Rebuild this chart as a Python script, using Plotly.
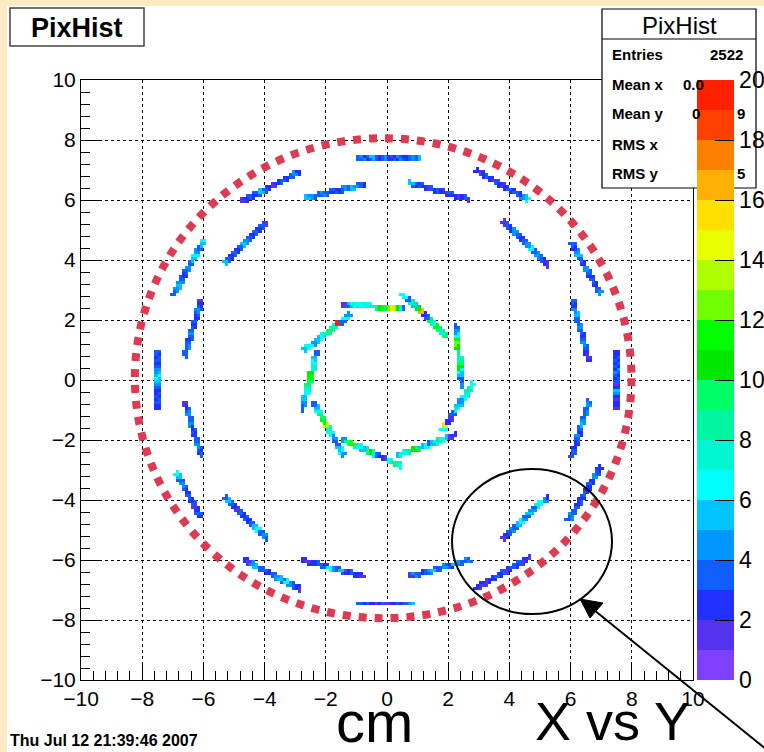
import numpy as np
import plotly.graph_objects as go

# ---------------- data ----------------
# outer ring ladders (cm): start / end points
OUT_X0 = [-0.95, 0.72, 2.92, 3.81, 6.03, 6.06, 7.46, 6.03, 5.92, 3.82, 2.90, 0.72, -1.00, -2.72, -4.62, -5.30, -6.87, -6.61, -7.48, -6.61, -6.99, -5.30, -4.76, -2.66]
OUT_Y0 = [7.44, 6.58, 6.98, 5.28, 4.58, 2.69, 0.98, -2.56, -4.67, -5.28, -6.94, -6.56, -7.44, -6.02, -6.02, -3.91, -3.11, -0.72, 0.98, 0.80, 2.83, 3.89, 5.94, 6.05]
OUT_X1 = [1.01, 2.68, 4.61, 5.26, 6.97, 6.57, 7.46, 6.60, 7.00, 5.26, 4.66, 2.70, 0.87, -0.73, -2.83, -3.96, -6.07, -6.06, -7.48, -6.06, -5.96, -3.94, -2.85, -0.73]
OUT_Y1 = [7.44, 6.02, 6.00, 3.80, 2.89, 0.69, -1.00, -0.69, -2.89, -3.89, -5.92, -6.00, -7.44, -6.56, -6.97, -5.28, -4.58, -2.50, -1.00, 2.67, 4.67, 5.22, 6.94, 6.53]
OUT_COUNTS = [
    [3, 4, 2, 3, 5, 3, 2, 3, 4, 2, 3, 2, 4, 3, 2, 3, 4, 3, 5],
    [5, 3, 2, 3, 2, 1, 3, 2, 3, 2, 1, 2, 3, 2, 1, 2, 3, 1],
    [2, 1, 2, 3, 2, 1, 3, 2, 1, 2, 3, 2, 3, 2, 4, 5, 6],
    [1, 3, 2, 4, 3, 2, 3, 4, 6, 3, 4, 3, 2, 1],
    [3, 2, 4, 5, 3, 2, 4, 3, 2, 3, 2, 3, 4],
    [3, 2, 4, 5, 3, 3, 4, 3, 2, 3, 4, 3, 2, 1, 2],
    [2, 2, 3, 2, 3, 2, 4, 3, 2, 3, 1, 2, 5, 4, 2, 1, 2, 2, 1],
    [3, 3, 2, 2, 3, 4, 2, 3, 5, 4, 3, 4, 3, 4, 3],
    [3, 4, 3, 3, 2, 3, 2, 3, 2, 2, 3, 2, 4, 3, 2, 2],
    [1, 2, 3, 4, 3, 5, 6, 4, 3, 5, 4, 3, 7, 6, 4, 2],
    [2, 1, 2, 1, 2, 2, 3, 2, 3, 1, 2, 3, 2, 3, 1, 2, 1],
    [1, 4, 3, 2, 3, 4, 5, 3, 3, 4, 3, 2, 5, 4, 3, 4, 3],
    [3, 2, 3, 2, 2, 1, 2, 3, 1, 2, 2, 3, 2, 1, 3, 4, 5],
    [2, 1, 2, 2, 3, 3, 2, 6, 4, 3, 5, 3, 2, 3, 2, 2, 1],
    [2, 1, 4, 5, 3, 3, 2, 3, 4, 5, 3, 6, 4, 3, 2, 1],
    [3, 5, 3, 2, 1, 3, 2, 3, 2, 3, 5, 6, 3, 4, 3],
    [6, 5, 3, 4, 3, 2, 3, 2, 3, 1, 2, 3, 2],
    [1, 2, 3, 4, 3, 3, 4, 2, 3, 2, 3, 3, 4, 3, 2, 3],
    [3, 2, 3, 2, 3, 4, 5, 6, 5, 4, 3, 2, 3, 2, 3, 2, 2],
    [3, 3, 4, 3, 2, 3, 4, 3, 2, 3, 2, 3, 4, 3, 2, 1],
    [3, 4, 5, 4, 3, 2, 3, 4, 3, 5, 6, 4, 3, 5, 6],
    [5, 3, 2, 3, 2, 3, 5, 4, 3, 2, 3, 2, 3, 1],
    [1, 2, 3, 2, 3, 5, 3, 2, 1, 2, 3, 2, 3, 4, 2],
    [5, 4, 3, 3, 4, 3, 2, 3, 2, 3, 4, 3, 5, 4, 3, 2],
]

# inner ring ladders (cm)
IN_X0 = [-1.49, 0.52, 2.25, 2.81, 2.27, -1.43, -2.41, -2.31, -1.22]
IN_Y0 = [2.53, 2.83, 1.89, -0.11, -1.83, -2.00, -0.72, 0.94, 2.17]
IN_X1 = [0.58, 1.94, 2.46, 1.83, 0.36, 0.47, -1.43, -2.76, -2.69]
IN_Y1 = [2.37, 1.50, -0.20, -1.67, -2.50, -2.87, -2.50, -1.00, 1.00]
IN_COUNTS = [
    [1, 3, 5, 6, 7, 6, 6, 7, 6, 7, 8, 10, 11, 9, 12, 15, 13, 10, 7, 3],
    [6, 3, 8, 5, 10, 16, 2, 3, 9, 6, 11, 8, 7, 9],
    [3, 4, 6, 11, 12, 10, 8, 7, 9, 10, 6, 5, 3, 4],
    [6, 8, 7, 6, 4, 5, 7, 3, 1, 2, 15, 6],
    [2, 1, 5, 6, 8, 7, 5, 3, 6, 5, 9, 10, 8, 6, 7, 5],
    [4, 9, 11, 7, 6, 5, 8, 10, 7, 3, 2, 1, 6, 9, 7, 6],
    [3, 5, 6, 9, 11, 13, 7, 6, 4, 3, 5, 6, 4],
    [3, 5, 6, 7, 10, 11, 9, 7, 6, 5, 4, 3],
    [4, 6, 3, 19, 7, 9, 8, 6, 5, 4, 6, 5],
]

# 20-level palette (0 -> 20)
PALETTE = ["#7f3fff", "#5533ee", "#1f30ff", "#105eff", "#0096ff", "#00c3ff",
           "#00ffff", "#00f5d2", "#00f5a0", "#00ff66", "#00e800", "#00ff00",
           "#70ff00", "#b0ff00", "#e8ff00", "#ffe000", "#ffb000", "#ff8000",
           "#ff4000", "#ff2000"]
CB_TICKS = [0, 2, 4, 6, 8, 10, 12, 14, 16, 18, 20]
AXIS_TICKS = [-10, -8, -6, -4, -2, 0, 2, 4, 6, 8, 10]

STATS_LABELS = ["Entries", "Mean x", "Mean y", "RMS x", "RMS y"]
ENTRIES = "2522"

# ---------------- build histogram ----------------
NB = 200
BW = 0.1
z = [[None] * NB for _ in range(NB)]
HALF_WIDTH = 0.04  # ladder half thickness (cm)


def fill(x0, y0, x1, y1, counts):
    L = np.hypot(x1 - x0, y1 - y0)
    ux, uy = (x1 - x0) / L, (y1 - y0) / L
    nx, ny = -uy, ux
    n = int(L / 0.03) + 2
    cells = []
    for t in np.linspace(0, 1, n):
        for off in (-HALF_WIDTH, HALF_WIDTH):
            x = x0 + (x1 - x0) * t + nx * off
            y = y0 + (y1 - y0) * t + ny * off
            i = int(np.floor((x + 10) / BW))
            j = int(np.floor((y + 10) / BW))
            if (i, j) not in cells:
                cells.append((i, j))
    m = len(cells)
    for k, (i, j) in enumerate(cells):
        z[j][i] = counts[min(int(k * len(counts) / m), len(counts) - 1)]


for a in range(len(OUT_X0)):
    fill(OUT_X0[a], OUT_Y0[a], OUT_X1[a], OUT_Y1[a], OUT_COUNTS[a])
for a in range(len(IN_X0)):
    fill(IN_X0[a], IN_Y0[a], IN_X1[a], IN_Y1[a], IN_COUNTS[a])

centers = [-10 + BW / 2 + BW * k for k in range(NB)]

colorscale = []
nlev = len(PALETTE)
for k, c in enumerate(PALETTE):
    colorscale.append([k / nlev, c])
    colorscale.append([(k + 1) / nlev, c])

# ---------------- figure ----------------
W, H = 764, 752
ML, MR, MT, MB = 81, 71, 80, 72
PW, PH = W - ML - MR, H - MT - MB


def PX(p):
    return (p - ML) / PW


def PY(p):
    return (H - MB - p) / PH


fig = go.Figure()
fig.add_trace(go.Heatmap(
    x=centers, y=centers, z=z, zmin=0, zmax=20,
    colorscale=colorscale, hoverongaps=False,
    colorbar=dict(
        x=PX(697), xanchor="left", xref="paper",
        y=0.5, yanchor="middle", len=1.0, lenmode="fraction",
        thickness=37, thicknessmode="pixels", outlinewidth=0,
        tickvals=CB_TICKS, ticks="inside", ticklen=19, tickcolor="black",
        tickwidth=1, tickfont=dict(family="Liberation Sans", size=23, color="black"),
        ypad=0, xpad=0,
    ),
))

FONT = "Liberation Sans"
axis_common = dict(
    range=[-10, 10], tickvals=AXIS_TICKS, ticks="inside", ticklen=18,
    tickcolor="black", tickwidth=1, showgrid=True, gridcolor="black",
    gridwidth=1, griddash="3px,3px", zeroline=False, showline=True,
    linecolor="black", linewidth=1, mirror=True,
    tickfont=dict(family=FONT, size=21, color="black"),
    minor=dict(dtick=0.4, ticks="inside", ticklen=9, tickcolor="black", showgrid=False),
)
fig.update_xaxes(**axis_common)
fig.update_yaxes(**axis_common)

shapes = []
# cream window border (top and left)
shapes.append(dict(type="rect", xref="paper", yref="paper", x0=PX(0), x1=PX(W), y0=PY(0), y1=PY(6),
                   fillcolor="#fdebc6", line=dict(width=0), layer="below"))
shapes.append(dict(type="rect", xref="paper", yref="paper", x0=PX(0), x1=PX(7), y0=PY(0), y1=PY(H),
                   fillcolor="#fdebc6", line=dict(width=0), layer="below"))
# red dotted circle
shapes.append(dict(type="circle", xref="x", yref="y", x0=-8.24, x1=7.99, y0=-7.94, y1=8.06,
                   line=dict(color="#dd3b52", width=8, dash="dot"), layer="above"))
# black ellipse
shapes.append(dict(type="circle", xref="paper", yref="paper", x0=PX(452), x1=PX(612), y0=PY(614), y1=PY(469),
                   line=dict(color="black", width=2), layer="above"))
# arrow
shapes.append(dict(type="line", xref="paper", yref="paper", x0=PX(594), y0=PY(610), x1=PX(772), y1=PY(754),
                   line=dict(color="black", width=2), layer="above"))
shapes.append(dict(type="path", xref="paper", yref="paper",
                   path=f"M {PX(580)},{PY(599)} L {PX(603)},{PY(603)} L {PX(590)},{PY(618)} Z",
                   fillcolor="black", line=dict(color="black", width=1), layer="above"))
# title box
shapes.append(dict(type="rect", xref="paper", yref="paper", x0=PX(10), x1=PX(144), y0=PY(46), y1=PY(8),
                   fillcolor="white", line=dict(color="#444", width=1.5), layer="above"))
# stats box
shapes.append(dict(type="rect", xref="paper", yref="paper", x0=PX(602), x1=PX(756), y0=PY(188), y1=PY(9),
                   fillcolor="white", line=dict(color="black", width=1.2), layer="above"))
shapes.append(dict(type="line", xref="paper", yref="paper", x0=PX(602), x1=PX(756), y0=PY(39), y1=PY(39),
                   line=dict(color="black", width=1.2), layer="above"))

ann = []


def text(t, x, y, size, bold=False, xanchor="center", family=FONT):
    ann.append(dict(text=f"<b>{t}</b>" if bold else t, x=PX(x), y=PY(y), xref="paper", yref="paper",
                    xanchor=xanchor, yanchor="middle", showarrow=False,
                    font=dict(family=family, size=size, color="black")))


text("PixHist", 77, 28, 27, bold=True)
text("PixHist", 679, 25, 24)
rows_y = [54, 84, 114, 144, 173]
for lab, yy in zip(STATS_LABELS, rows_y):
    text(lab, 610, yy, 15, bold=True, xanchor="left")
text(ENTRIES, 745, rows_y[0], 15, bold=True, xanchor="right")
text("0.0", 681, rows_y[1], 15, bold=True, xanchor="left")
text("0", 690, rows_y[2], 15, bold=True, xanchor="left")
text("9", 735, rows_y[2], 15, bold=True, xanchor="left")
text("5", 735, rows_y[4], 15, bold=True, xanchor="left")

text("cm", 374, 721, 58)
text("X vs Y", 612, 721, 54)
text("Thu Jul 12 21:39:46 2007", 8, 740, 16, bold=True, xanchor="left")

fig.update_layout(
    width=W, height=H, margin=dict(l=ML, r=MR, t=MT, b=MB, autoexpand=False),
    paper_bgcolor="white", plot_bgcolor="white",
    shapes=shapes, annotations=ann, showlegend=False,
    font=dict(family=FONT, color="black"),
)

fig.write_html("out.html", config={"displayModeBar": False},
               post_script="document.body.style.margin='0px';document.body.style.overflow='hidden';")
